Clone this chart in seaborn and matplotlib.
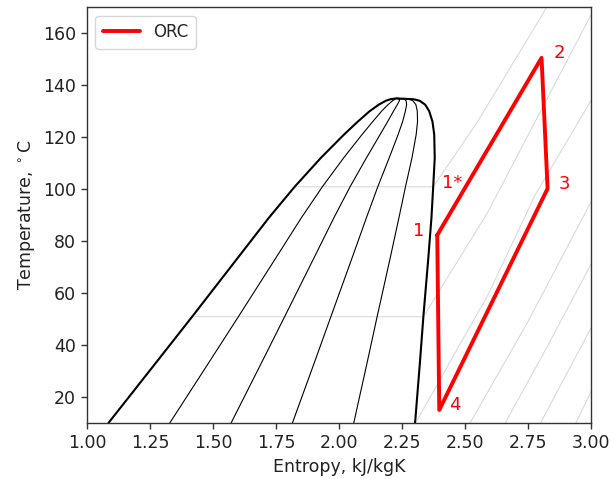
import numpy as np
import pandas as pd
import seaborn as sns
import matplotlib
matplotlib.use("Agg")
import matplotlib.pyplot as plt

# Sättigungslinien, gleiche Temperaturstützstellen
t_sat = [10, 33, 51, 74, 89, 101, 112, 121, 126, 130, 132.5, 134, 134.6, 134.9]
s_liq = [1.085, 1.272, 1.418, 1.602, 1.722, 1.825, 1.928, 2.020, 2.075, 2.122, 2.158, 2.186, 2.205, 2.227]
s_vap = [2.302, 2.321, 2.335, 2.355, 2.367, 2.374, 2.380, 2.378, 2.371, 2.358, 2.342, 2.320, 2.295, 2.227]
qualities = [0.2, 0.4, 0.6, 0.8]

# Isobaren (grau), je Linie s- und T-Werte
isobar_s = [
    [1.825, 2.374, 2.546, 2.825],
    [1.418, 2.335, 2.590, 3.000],
    [2.310, 2.455, 2.590, 2.780, 3.000],
    [2.520, 2.750, 3.000],
    [2.660, 2.830, 3.000],
    [2.800, 3.000],
    [2.940, 3.000],
]
isobar_t = [
    [100.9, 100.9, 125.3, 170.0],
    [50.9, 50.9, 91.0, 167.0],
    [11.0, 36.0, 59.0, 98.0, 134.0],
    [10.0, 49.0, 95.0],
    [10.0, 40.0, 71.0],
    [10.0, 46.5],
    [10.0, 22.0],
]

# ORC-Kreisprozess 1 -> 2 -> 3 -> 4 -> 1
orc_s = [2.390, 2.804, 2.828, 2.398]
orc_t = [82.3, 150.5, 100.2, 15.0]
label_s = [2.315, 2.875, 2.895, 2.458, 2.448]
label_t = [84.0, 152.5, 102.0, 17.0, 102.5]
label_txt = ["1", "2", "3", "4", "1*"]

sns.set_theme(style="ticks")
plt.rcParams["font.family"] = ["DejaVu Sans"]

fig = plt.figure(figsize=(6.13, 4.79), dpi=100)
ax = fig.add_axes([0.142, 0.117, 0.822, 0.868])

for xs, ts in zip(isobar_s, isobar_t):
    sns.lineplot(x=xs, y=ts, sort=False, estimator=None, color="#dadada", lw=0.8, ax=ax)

liq = np.array(s_liq)
vap = np.array(s_vap)
for q in qualities:
    sns.lineplot(x=liq + q * (vap - liq), y=t_sat, sort=False, estimator=None,
                 color="black", lw=0.8, ax=ax)

dome_s = s_liq + s_vap[::-1]
dome_t = t_sat + t_sat[::-1]
sns.lineplot(x=dome_s, y=dome_t, sort=False, estimator=None, color="black", lw=1.5, ax=ax)

cyc = pd.DataFrame({"s": orc_s + orc_s[:1], "T": orc_t + orc_t[:1]})
sns.lineplot(data=cyc, x="s", y="T", sort=False, estimator=None, color="red", lw=2.8,
             label="ORC", ax=ax)

for sx, tx, txt in zip(label_s, label_t, label_txt):
    ax.text(sx, tx, txt, color="red", fontsize=13, ha="center", va="center")

ax.set_xlim(1.0, 3.0)
ax.set_ylim(10, 170)
ax.set_xticks(np.arange(1.0, 3.01, 0.25))
ax.set_yticks(np.arange(20, 161, 20))
ax.set_xticklabels([f"{v:.2f}" for v in np.arange(1.0, 3.01, 0.25)])
ax.tick_params(labelsize=12.5, length=4.5, width=1, color="#333333", labelcolor="#222222")
for sp in ax.spines.values():
    sp.set_visible(True)
    sp.set_color("#333333")
    sp.set_linewidth(1.0)
ax.set_xlabel("Entropy, kJ/kgK", fontsize=12.5, color="#222222")
ax.set_ylabel(r"Temperature, $^\circ$C", fontsize=12.5, color="#222222")
ax.legend(loc="upper left", fontsize=12, handlelength=2.2, borderpad=0.45)

fig.savefig("out.png", dpi=100)
